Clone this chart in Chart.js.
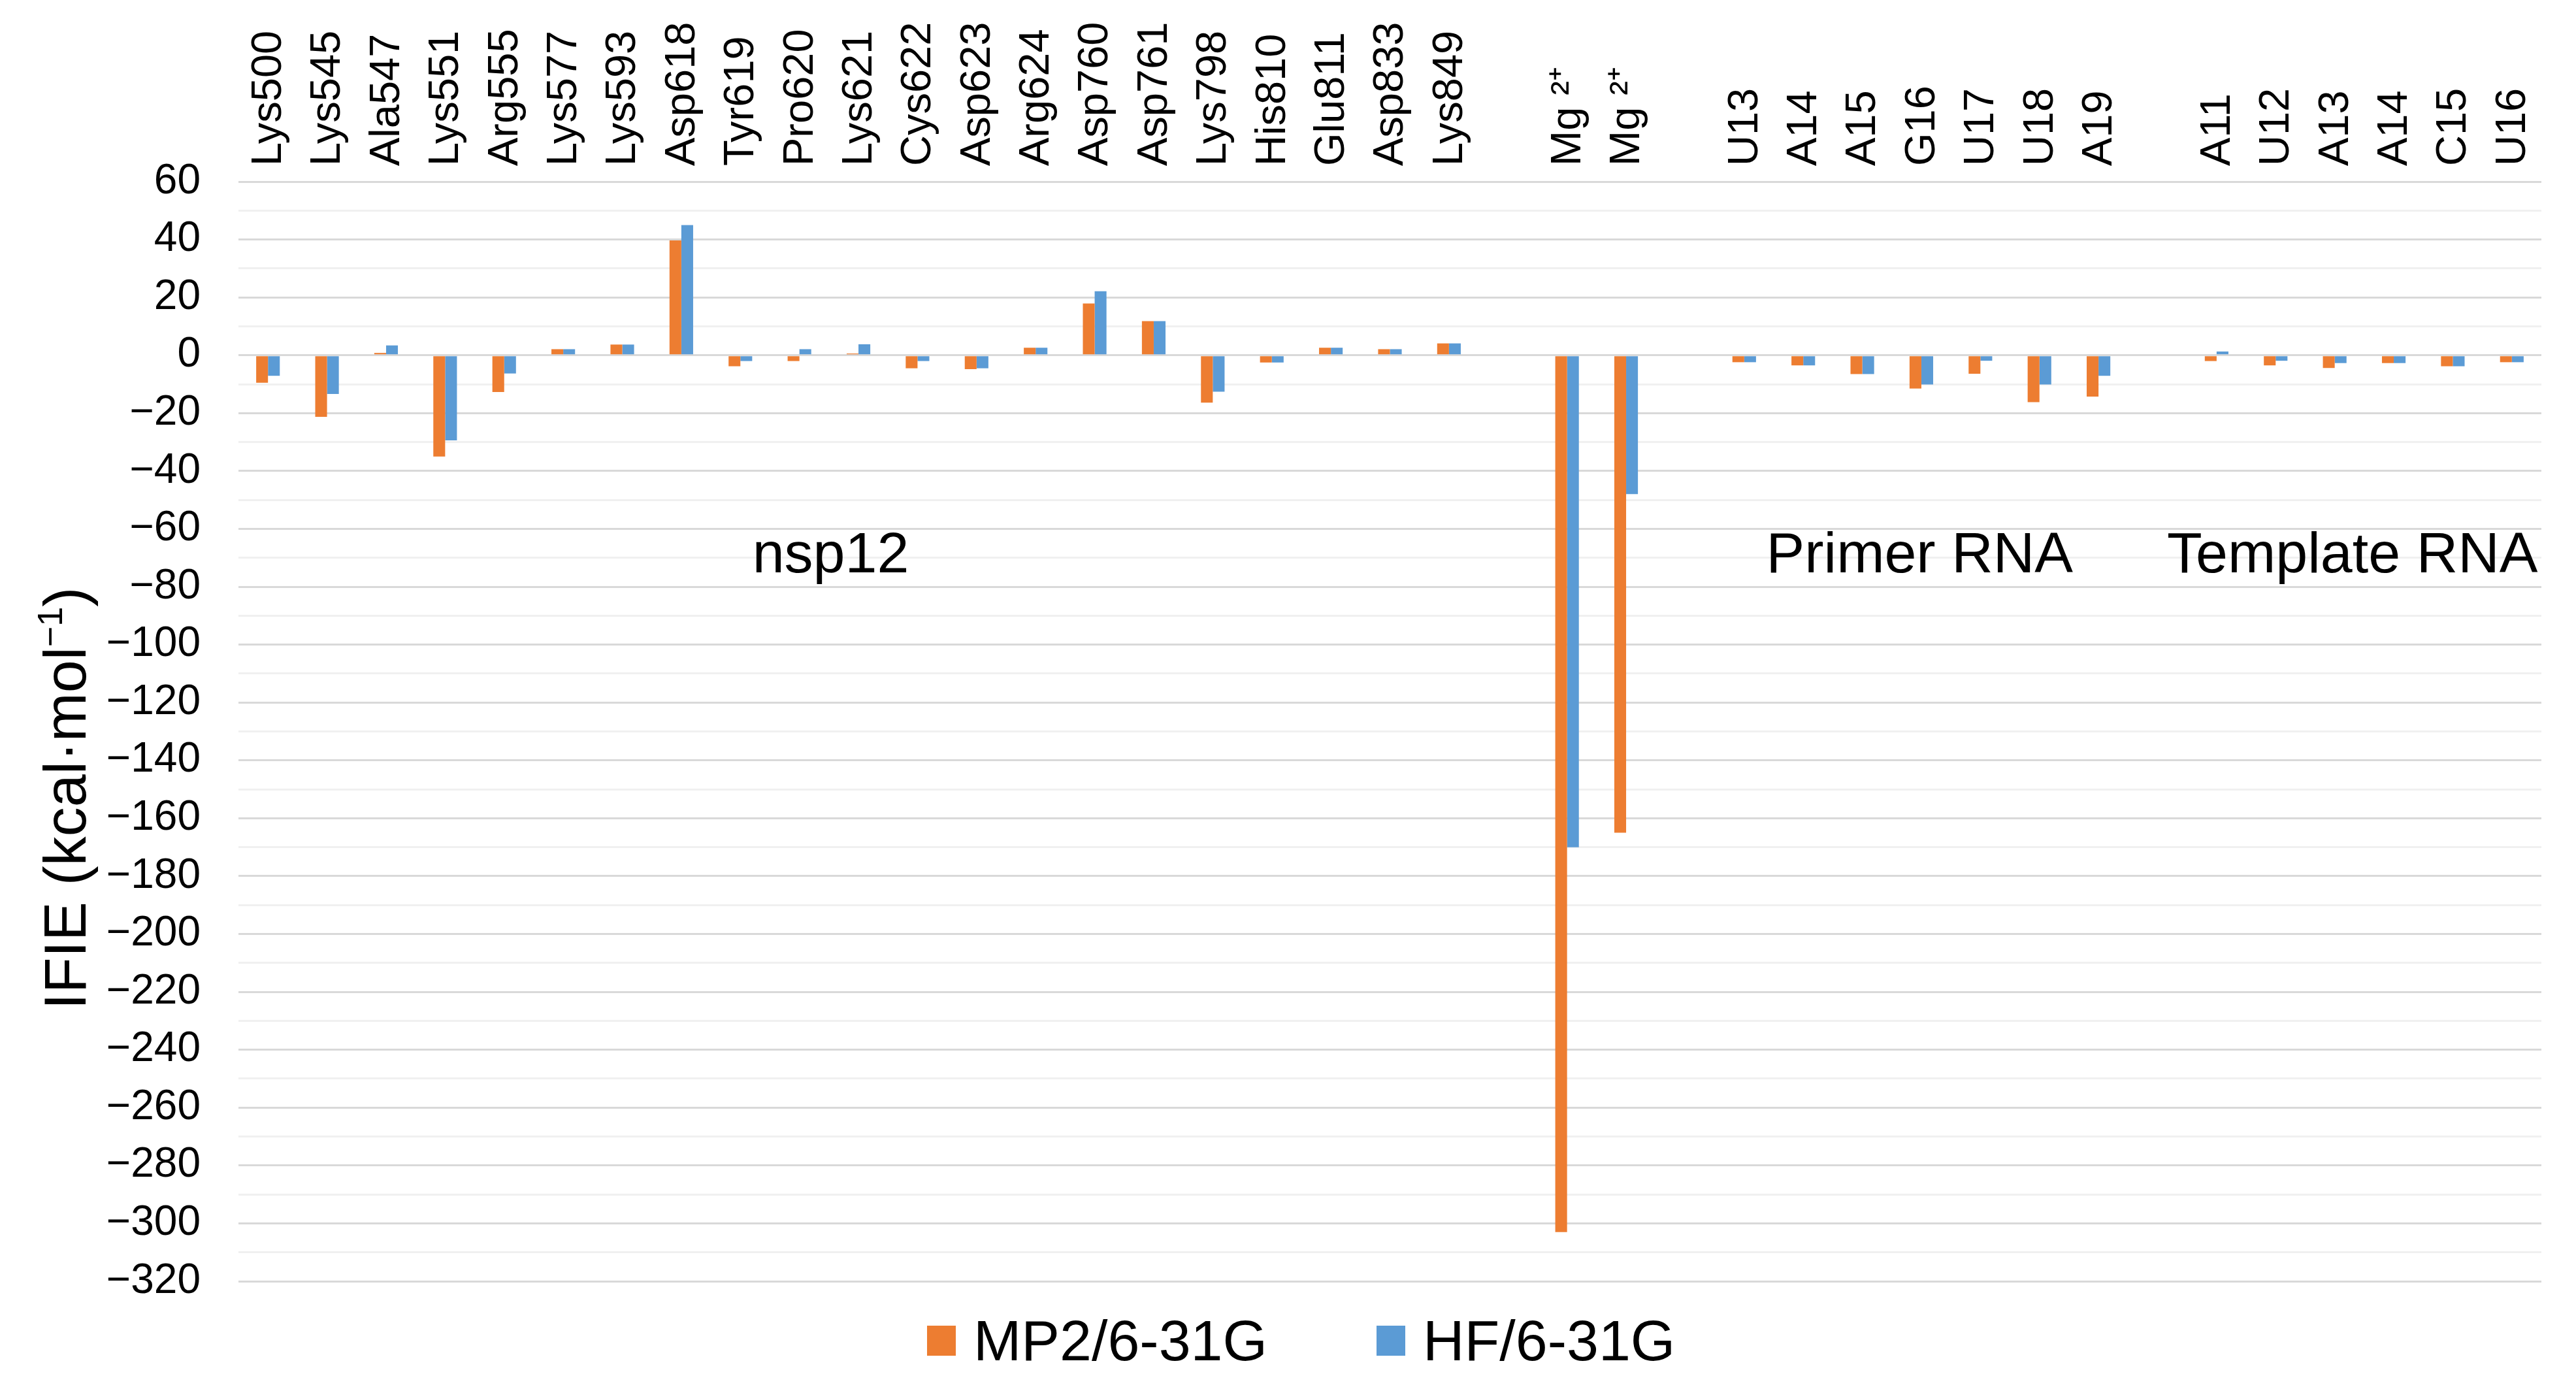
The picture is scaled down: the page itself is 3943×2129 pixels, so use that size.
<!DOCTYPE html>
<html>
<head>
<meta charset="utf-8">
<title>IFIE chart</title>
<script src="https://cdn.jsdelivr.net/npm/chart.js@4.4.1/dist/chart.umd.min.js"></script>
<style>
  html, body { margin: 0; padding: 0; background: #fff; }
  #wrap { position: relative; width: 3943px; height: 2129px; }
  #legend { position: absolute; left: 1419px; top: 2008px; height: 88px; display: flex; align-items: center;
            font-family: "Liberation Sans", Arial, sans-serif; font-size: 88px; line-height: 88px; color: #000; }
  #legend .box { display: inline-block; width: 44px; height: 46px; }
  #legend .txt { margin-left: 27px; }
</style>
</head>
<body>
<div id="wrap">
  <canvas id="chart" width="3943" height="2129" style="width:3943px;height:2129px"></canvas>
  <div id="legend"></div>
</div>
<script>
// residues / ions / nucleotides, blank slots separate the groups
const labels = ['Lys500','Lys545','Ala547','Lys551','Arg555','Lys577','Lys593','Asp618','Tyr619','Pro620',
  'Lys621','Cys622','Asp623','Arg624','Asp760','Asp761','Lys798','His810','Glu811','Asp833','Lys849',
  '', 'Mg \u00b2\u207a', 'Mg \u00b2\u207a', '',
  'U13','A14','A15','G16','U17','U18','A19', '',
  'A11','U12','A13','A14','C15','U16'];

// IFIE values (kcal/mol)
const mp2 = [-9.5,-21.3,0.8,-35.0,-12.7,2.1,3.7,39.7,-3.8,-2.0,
  0.6,-4.5,-4.8,2.6,17.9,11.8,-16.4,-2.5,2.6,2.1,4.1,
  null,-303,-165,null,
  -2.4,-3.5,-6.5,-11.5,-6.4,-16.2,-14.3,null,
  -2.0,-3.5,-4.4,-2.7,-3.8,-2.4];
const hf = [-7.1,-13.4,3.4,-29.4,-6.3,2.1,3.7,45.0,-2.0,2.1,
  3.8,-2.0,-4.5,2.6,22.1,11.8,-12.6,-2.5,2.6,2.1,4.1,
  null,-170,-48,null,
  -2.4,-3.5,-6.5,-10.1,-1.9,-10.1,-7.1,null,
  1.3,-1.9,-2.7,-2.7,-3.8,-2.4];

const seriesNames = ['MP2/6-31G','HF/6-31G'];
const groupNames = ['nsp12','Primer RNA','Template RNA'];
const yMin = -320, yMax = 60;

const ORANGE = '#ED7D31', BLUE = '#5B9BD5';
const FONT = '"Liberation Sans", Arial, sans-serif';

// category labels (vertical, above the plot), group captions and y axis title
const overlayText = {
  id: 'overlayText',
  afterDraw(chart) {
    const {ctx, scales: {x, y}} = chart;
    ctx.save();
    ctx.fillStyle = '#000';

    // vertical category labels, reading upwards from just above the plot
    ctx.font = '65px ' + FONT;
    ctx.textAlign = 'left';
    ctx.textBaseline = 'middle';
    chart.data.labels.forEach((lab, i) => {
      if (!lab) return;
      ctx.save();
      ctx.translate(x.getPixelForValue(i) + 2, chart.chartArea.top - 24);
      ctx.rotate(-Math.PI / 2);
      ctx.fillText(lab, 0, 0);
      ctx.restore();
    });

    const anchors = [9.53, 27.97, 35.3];
    ctx.font = '88px ' + FONT;
    ctx.textAlign = 'center';
    ctx.textBaseline = 'alphabetic';
    groupNames.forEach((g, i) => ctx.fillText(g, x.getPixelForValue(anchors[i]), y.getPixelForValue(-75)));

    // IFIE (kcal·mol⁻¹)
    ctx.translate(131, 1222);
    ctx.rotate(-Math.PI / 2);
    ctx.textAlign = 'left';
    const main = 'IFIE (kcal\u00b7mol', sup = '\u22121', close = ')';
    ctx.font = '90px ' + FONT;
    const w1 = ctx.measureText(main).width, w3 = ctx.measureText(close).width;
    ctx.font = '54px ' + FONT;
    const w2 = ctx.measureText(sup).width;
    let x0 = -(w1 + w2 + w3) / 2;
    ctx.font = '90px ' + FONT;
    ctx.fillText(main, x0, 0);
    ctx.font = '54px ' + FONT;
    ctx.fillText(sup, x0 + w1, -36);
    ctx.font = '90px ' + FONT;
    ctx.fillText(close, x0 + w1 + w2, 0);
    ctx.restore();
  }
};

new Chart(document.getElementById('chart'), {
  type: 'bar',
  data: {
    labels: labels,
    datasets: [
      {label: seriesNames[0], data: mp2, backgroundColor: ORANGE},
      {label: seriesNames[1], data: hf, backgroundColor: BLUE}
    ]
  },
  options: {
    responsive: false,
    devicePixelRatio: 1,
    animation: false,
    categoryPercentage: 0.4,
    barPercentage: 1.0,
    layout: {padding: {top: 0, left: 0, right: 53, bottom: 168}},
    plugins: {legend: {display: false}, tooltip: {enabled: false}},
    scales: {
      x: {
        position: 'top',
        grid: {display: false, drawTicks: false},
        border: {display: false},
        ticks: {display: false, autoSkip: false},
        afterFit(scale) { scale.height = 278; }
      },
      y: {
        min: yMin, max: yMax,
        grid: {
          drawTicks: false, lineWidth: 3,
          color: c => (c.tick && c.tick.value % 20 === 0) ? '#d9d9d9' : '#f0f0f0'
        },
        border: {display: false},
        ticks: {
          stepSize: 10, autoSkip: false, padding: 58, color: '#000',
          font: {family: FONT, size: 64},
          callback: v => v % 20 === 0 ? (v < 0 ? '\u2212' + Math.abs(v) : String(v)) : ''
        },
        afterFit(scale) { scale.width = 365; }
      }
    }
  },
  plugins: [overlayText]
});

// legend under the plot
const legend = document.getElementById('legend');
legend.innerHTML = seriesNames.map((n, i) =>
  `<span class="box" style="background:${i ? BLUE : ORANGE};${i ? 'margin-left:167px;' : ''}"></span><span class="txt">${n}</span>`
).join('');
</script>
</body>
</html>
